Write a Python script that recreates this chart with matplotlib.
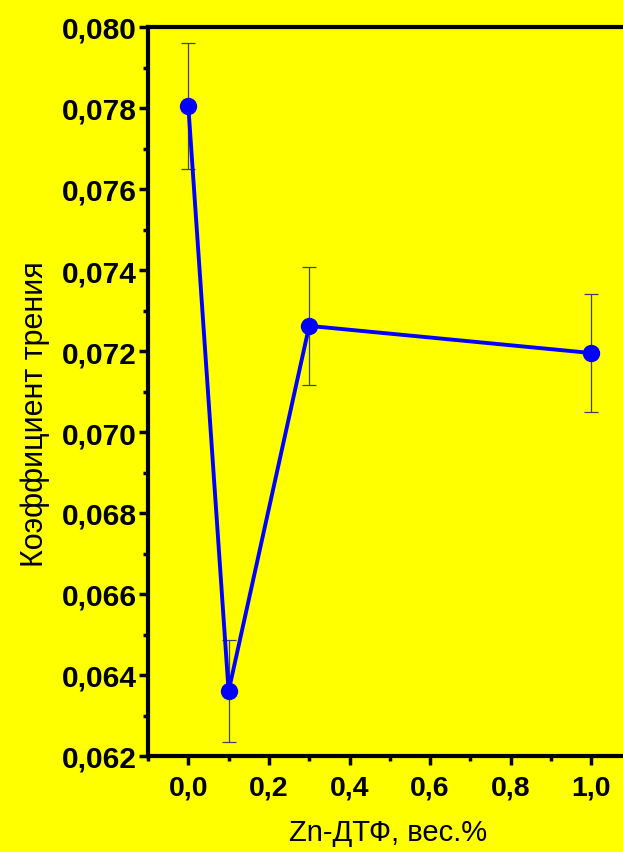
import matplotlib
matplotlib.use("Agg")
import matplotlib.pyplot as plt
from matplotlib.ticker import MultipleLocator, FuncFormatter

# Friction coefficient vs. Zn-DTP additive concentration
conc = [0.0, 0.1, 0.3, 1.0]
friction = [0.07805, 0.0636, 0.07262, 0.07195]
friction_err = [0.00156, 0.00126, 0.00146, 0.00145]

x_label = "Zn-ДТФ, вес.%"
y_label = "Коэффициент трения"

bg = "#ffff00"
W, H = 623, 853
fig = plt.figure(figsize=(W / 100, H / 100), dpi=100, facecolor=bg)

x_min, x_max = -0.1, 1.15
y_min, y_max = 0.062, 0.080
left_px, bottom_px, top_px = 148, 757, 28
px_per_x = 403
ax_w_px = (x_max - x_min) * px_per_x
ax_h_px = bottom_px - top_px
ax = fig.add_axes([left_px / W, (H - bottom_px) / H, ax_w_px / W, ax_h_px / H])
ax.set_facecolor(bg)

ax.errorbar(conc, friction, yerr=friction_err, fmt="none",
            ecolor="#404060", elinewidth=0.9, capsize=5, capthick=0.9, zorder=2)
ax.plot(conc, friction, color="#0000ff", lw=2.8, marker="o",
        markersize=12.5, markerfacecolor="#0000ff", markeredgewidth=0, zorder=3)

ax.set_xlim(x_min, x_max)
ax.set_ylim(y_min, y_max)

ax.xaxis.set_major_locator(MultipleLocator(0.2))
ax.xaxis.set_minor_locator(MultipleLocator(0.1))
ax.yaxis.set_major_locator(MultipleLocator(0.002))
ax.yaxis.set_minor_locator(MultipleLocator(0.001))
ax.xaxis.set_major_formatter(FuncFormatter(lambda v, p: f"{v:.1f}".replace(".", ",")))
ax.yaxis.set_major_formatter(FuncFormatter(lambda v, p: f"{v:.3f}".replace(".", ",")))

for s in ["left", "bottom", "top", "right"]:
    ax.spines[s].set_linewidth(3)
    ax.spines[s].set_color("black")

ax.tick_params(axis="both", which="major", direction="out", length=6.5, width=2.5,
               color="black")
ax.tick_params(axis="both", which="minor", direction="out", length=3.5, width=2.5,
               color="black")
ax.tick_params(axis="x", which="major", pad=7, labelsize=20.5)
ax.tick_params(axis="y", which="major", pad=1.5, labelsize=21.5)
for lab in ax.get_xticklabels() + ax.get_yticklabels():
    lab.set_fontfamily("Liberation Sans")
    lab.set_fontweight("bold")

ax.set_xlabel(x_label, fontsize=21, family="Liberation Sans", va="center")
ax.set_ylabel(y_label, fontsize=22, family="Liberation Sans", va="center")
ax.xaxis.set_label_coords((388 - left_px) / ax_w_px, -(833 - bottom_px) / ax_h_px)
ax.yaxis.set_label_coords(-(left_px - 35) / ax_w_px, (bottom_px - 414) / ax_h_px)

fig.savefig("out.png", dpi=100, facecolor=bg)
